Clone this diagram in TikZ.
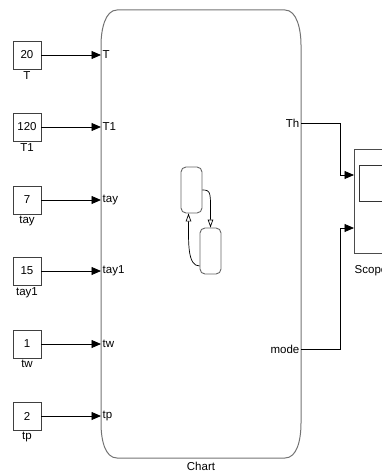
\documentclass[tikz,border=0pt]{standalone}
\usepackage{fontspec}
\setmainfont{Liberation Sans}
\usetikzlibrary{arrows.meta, positioning, calc}
\tikzset{
    % Blocks
    constblk/.style = {draw=black!75, minimum width=28pt, minimum height=28pt, inner sep=0pt, font=\fontsize{11.5}{12}\selectfont},
    blklabel/.style = {inner sep=1pt, font=\fontsize{11.5}{12}\selectfont},
    portlabel/.style = {inner sep=1.5pt, font=\fontsize{11.5}{12}\selectfont},
    chartline/.style = {draw=black!55, line width=1pt},
    scopeblk/.style = {draw=black!70, minimum width=34pt, minimum height=104pt, inner sep=0pt},
    screen/.style = {draw=black!80, minimum width=24pt, minimum height=36pt, inner sep=0pt},
    state/.style = {draw=black!60, line width=0.9pt, rounded corners=5pt, minimum width=21pt, minimum height=46pt, inner sep=0pt},
    % Connectors
    signal/.style = {line width=0.8pt, -{Triangle[length=9.5pt, width=8pt]}},
    trans/.style = {line width=0.7pt, -{Triangle[open, length=8pt, width=5.5pt]}}
}

\begin{document}
\begin{tikzpicture}[x=1pt, y=-1pt]
    \clip (0,0) rectangle (382,473);

    % Constant sources
    \node (c20) [constblk] at (27,55) {20};
    \node (c120) [constblk] at (27,127) {120};
    \node (c7) [constblk] at (27,200) {7};
    \node (c15) [constblk] at (27,271) {15};
    \node (c1) [constblk] at (27,344) {1};
    \node (c2) [constblk] at (27,416) {2};

    \node (lT) [blklabel, below=1pt of c20] {T};
    \node (lT1) [blklabel, below=1pt of c120] {T1};
    \node (ltay) [blklabel, below=1pt of c7] {tay};
    \node (ltay1) [blklabel, below=1pt of c15] {tay1};
    \node (ltw) [blklabel, below=1pt of c1] {tw};
    \node (ltp) [blklabel, below=1pt of c2] {tp};

    % Chart block
    \draw [chartline] (117,10) -- (285,10)
        .. controls (297,10) and (301,30) .. (301,45) -- (301,423)
        .. controls (301,440) and (297,458) .. (285,458) -- (117,458)
        .. controls (105,458) and (101,440) .. (101,423) -- (101,45)
        .. controls (101,30) and (105,10) .. (117,10) -- cycle;
    \node (chartlbl) [blklabel] at (201,466.5) {Chart};

    \coordinate (inT) at (101,55);
    \coordinate (inT1) at (101,127);
    \coordinate (intay) at (101,200);
    \coordinate (intay1) at (101,271);
    \coordinate (intw) at (101,344);
    \coordinate (intp) at (101,416);
    \coordinate (outTh) at (301,123);
    \coordinate (outmode) at (301,349);

    \node [portlabel, right] at (inT) {T};
    \node [portlabel, right] at (inT1) {T1};
    \node [portlabel, right] at (intay) {tay};
    \node [portlabel, right] at (intay1) {tay1};
    \node [portlabel, right] at (intw) {tw};
    \node [portlabel, right] at (intp) {tp};
    \node [portlabel, left] at (outTh) {Th};
    \node [portlabel, left] at (outmode) {mode};

    % States inside the chart
    \node (s1) [state] at (191.5,190) {};
    \node (s2) [state] at (210.5,251) {};
    \draw [trans] (s1.east) .. controls +(9,0) and +(0,-35) .. (s2.north);
    \draw [trans] ($(s2.west)+(0,15)$) .. controls +(-12,0) and +(0,30) .. ([xshift=-3pt]s1.south);

    % Scope
    \node (scope) [scopeblk] at (371,201) {};
    \node (scr) [screen] at (371,183) {};
    \node (scopelbl) [blklabel, below=11pt of scope] {Scope};
    \coordinate (sc1) at (354,175);
    \coordinate (sc2) at (354,228);

    \draw [signal] (c20) -- (inT);
    \draw [signal] (c120) -- (inT1);
    \draw [signal] (c7) -- (intay);
    \draw [signal] (c15) -- (intay1);
    \draw [signal] (c1) -- (intw);
    \draw [signal] (c2) -- (intp);
    \draw [signal] (outTh) -- ++(39,0) |- (sc1);
    \draw [signal] (outmode) -- ++(39,0) |- (sc2);
\end{tikzpicture}
\end{document}
